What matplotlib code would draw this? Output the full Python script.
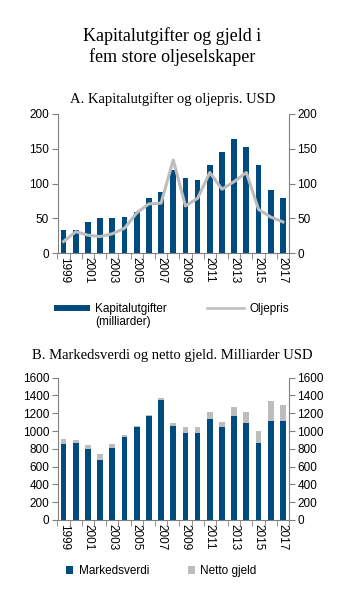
import matplotlib
matplotlib.use("Agg")
import matplotlib.pyplot as plt
import numpy as np
from matplotlib.patches import Patch
from matplotlib.lines import Line2D

years = list(range(1999, 2018))
capex = [33, 33, 45, 50, 50, 52, 60, 79, 88, 120, 108, 105, 127, 145, 164, 152, 127, 91, 79]
oil = [17, 31, 26, 24, 28, 36, 58, 71, 72, 134, 68, 79, 116, 92, 103, 116, 63, 52, 45]
market = [854, 862, 794, 678, 806, 930, 1047, 1168, 1354, 1058, 980, 974, 1133, 1045, 1168, 1090, 862, 1114, 1111]
total = [912, 897, 843, 742, 854, 955, 1053, 1176, 1367, 1090, 1049, 1041, 1214, 1098, 1266, 1218, 1000, 1338, 1289]
netdebt = [t - m for t, m in zip(total, market)]
tick_years = years[::2]

BLUE = "#004B7D"
GREY = "#BDBDBD"
SPINE = "#808080"
FS = 8.5

plt.rcParams['font.family'] = ['Liberation Sans', 'DejaVu Sans']
fig = plt.figure(figsize=(3.45, 5.96), dpi=100)

def fx(px):
    return px / 345

def fy(py):
    return 1 - py / 596

serif = ['Liberation Serif', 'DejaVu Serif']
fig.text(0.5, fy(36), "Kapitalutgifter og gjeld i", ha='center', va='center', fontsize=13, family=serif)
fig.text(0.5, fy(57), "fem store oljeselskaper", ha='center', va='center', fontsize=13, family=serif)
fig.text(0.5, fy(99), "A. Kapitalutgifter og oljepris. USD", ha='center', va='center', fontsize=10.5, family=serif)
fig.text(0.5, fy(355), "B. Markedsverdi og netto gjeld. Milliarder USD", ha='center', va='center', fontsize=10.5, family=serif)

L = fx(57.5)
W = fx(289 - 57.5)
axA = fig.add_axes([L, fy(253.3), W, (253.3 - 114) / 596])
axB = fig.add_axes([L, fy(520), W, (520 - 377.7) / 596])

x = np.arange(len(years))

def style(ax, ymax, step):
    ax.set_xlim(-0.5, len(years) - 0.5)
    ax.set_ylim(0, ymax)
    ax.set_yticks(np.arange(0, ymax + 1, step))
    ax.spines['top'].set_visible(False)
    for s in ['left', 'right', 'bottom']:
        ax.spines[s].set_color(SPINE)
        ax.spines[s].set_linewidth(0.8)
    ax.tick_params(axis='y', which='both', direction='out', length=4, color=SPINE, labelsize=FS, pad=2,
                   left=True, right=True, labelleft=True, labelright=True)
    ax.set_xticks([years.index(y) for y in tick_years])
    ax.set_xticklabels([str(y) for y in tick_years], rotation=-90, fontsize=FS)
    ax.tick_params(axis='x', which='major', length=0, pad=3)
    ax.set_xticks(np.arange(-0.5, len(years), 1.0), minor=True)
    ax.tick_params(axis='x', which='minor', direction='out', length=4, color=SPINE)

axA.bar(x, capex, width=0.47, color=BLUE, zorder=2)
axA.plot(x, oil, color=GREY, lw=2.2, zorder=3)
style(axA, 200, 50)

axB.bar(x, market, width=0.47, color=BLUE, zorder=2)
axB.bar(x, netdebt, bottom=market, width=0.47, color=GREY, zorder=2)
style(axB, 1600, 200)

em = FS * 100 / 72

def one_legend(handle, label, xpx, ypx, hl, hh, tp):
    fig.legend([handle], [label], loc='center left', bbox_to_anchor=(fx(xpx), fy(ypx)),
               frameon=False, fontsize=FS, borderpad=0, borderaxespad=0,
               handlelength=hl, handleheight=hh, handletextpad=tp)

one_legend(Patch(facecolor=BLUE), "Kapitalutgifter", 54, 309, 36 / em, 5 / em, 5 / em)
fig.text(fx(95), fy(322), "(milliarder)", ha='left', va='center', fontsize=FS)
one_legend(Line2D([0], [0], color=GREY, lw=1.8), "Oljepris", 207, 309, 37 / em, 0.7, 5 / em)

one_legend(Patch(facecolor=BLUE), "Markedsverdi", 66, 571, 7 / em, 7 / em, 6 / em)
one_legend(Patch(facecolor=GREY), "Netto gjeld", 188, 571, 7 / em, 7 / em, 5 / em)

fig.savefig("out.png", dpi=100)
